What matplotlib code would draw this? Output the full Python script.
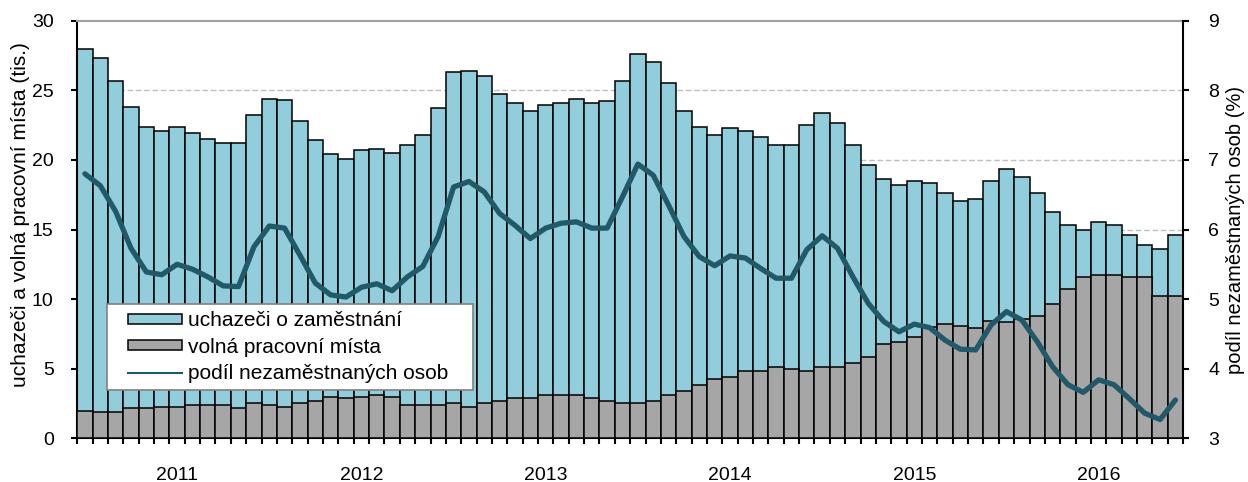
import matplotlib
matplotlib.use("Agg")
import matplotlib.pyplot as plt
import numpy as np
from matplotlib.patches import Patch, Rectangle
from matplotlib.lines import Line2D

plt.rcParams['font.family'] = ['Liberation Sans', 'DejaVu Sans']

years = ["2011", "2012", "2013", "2014", "2015", "2016"]

uchazeci = [28.0, 27.3, 25.7, 23.8, 22.4, 22.1, 22.4, 21.95, 21.5, 21.2, 21.2, 23.25,
            24.4, 24.3, 22.8, 21.4, 20.4, 20.1, 20.7, 20.8, 20.5, 21.1, 21.8, 23.7,
            26.3, 26.4, 26.0, 24.7, 24.1, 23.55, 23.95, 24.1, 24.4, 24.1, 24.25, 25.7,
            27.6, 27.0, 25.55, 23.55, 22.4, 21.8, 22.27, 22.1, 21.67, 21.07, 21.07, 22.53,
            23.37, 22.67, 21.09, 19.66, 18.65, 18.22, 18.48, 18.36, 17.64, 17.07, 17.19, 18.48,
            19.35, 18.77, 17.64, 16.23, 15.32, 14.94, 15.54, 15.32, 14.60, 13.89, 13.62, 14.60]

volna_mista = [1.98, 1.87, 1.87, 2.15, 2.15, 2.27, 2.27, 2.39, 2.39, 2.39, 2.15, 2.56,
               2.41, 2.27, 2.56, 2.70, 2.99, 2.87, 2.99, 3.11, 2.99, 2.39, 2.39, 2.39,
               2.56, 2.27, 2.56, 2.70, 2.87, 2.87, 3.11, 3.11, 3.11, 2.87, 2.70, 2.56,
               2.56, 2.70, 3.11, 3.42, 3.83, 4.28, 4.43, 4.86, 4.86, 5.14, 5.00, 4.86,
               5.14, 5.14, 5.43, 5.86, 6.75, 6.90, 7.30, 8.02, 8.21, 8.07, 7.90, 8.45,
               8.38, 8.57, 8.79, 9.63, 10.75, 11.61, 11.73, 11.73, 11.61, 11.61, 10.22, 10.22]

podil = [6.80, 6.63, 6.26, 5.73, 5.39, 5.35, 5.50, 5.43, 5.32, 5.19, 5.18, 5.75,
         6.05, 6.02, 5.63, 5.23, 5.06, 5.03, 5.17, 5.22, 5.12, 5.32, 5.47, 5.90,
         6.61, 6.69, 6.54, 6.23, 6.06, 5.87, 6.02, 6.09, 6.11, 6.02, 6.02, 6.47,
         6.94, 6.78, 6.35, 5.90, 5.61, 5.48, 5.62, 5.59, 5.44, 5.30, 5.30, 5.71,
         5.91, 5.73, 5.32, 4.94, 4.68, 4.53, 4.64, 4.59, 4.41, 4.28, 4.27, 4.63,
         4.82, 4.70, 4.39, 4.03, 3.77, 3.66, 3.84, 3.77, 3.57, 3.36, 3.27, 3.55]

labels = ["uchazeči o zaměstnání", "volná pracovní místa", "podíl nezaměstnaných osob"]
ylabel_left = "uchazeči a volná pracovní místa (tis.)"
ylabel_right = "podíl nezaměstnaných osob (%)"

c_blue = "#92CDDC"
c_gray = "#A6A6A6"
c_line = "#215968"
FS = 14

fig = plt.figure(figsize=(12.48, 4.82), dpi=100)
ax = fig.add_axes([0.0619, 0.0907, 0.948 - 0.0619, 0.957 - 0.0907])
n = len(uchazeci)
x = np.arange(n) + 0.5

ax.bar(x, uchazeci, width=1.0, color=c_blue, edgecolor="black", linewidth=1.1, zorder=2)
ax.bar(x, volna_mista, width=1.0, color=c_gray, edgecolor="black", linewidth=1.1, zorder=3)

ax.set_xlim(0, n)
ax.set_ylim(0, 30)
ax.set_yticks(np.arange(0, 31, 5))
for yv in [5, 10, 15, 20, 25]:
    ax.axhline(yv, color="#BFBFBF", linestyle=(0, (4, 2)), linewidth=1.0, zorder=1)

ax.set_xticks(np.arange(0, n + 1), minor=False)
ax.set_xticklabels([])
ax.set_xticks([12 * k + 6.5 for k in range(len(years))], minor=True)
ax.set_xticklabels(years, minor=True)
ax.tick_params(axis="x", which="major", direction="out", length=4, width=1.5)
ax.tick_params(axis="x", which="minor", length=0, pad=21, labelsize=FS)
ax.tick_params(axis="y", direction="out", length=4, width=1.5, pad=13, labelsize=FS)

for s in ["left", "bottom"]:
    ax.spines[s].set_linewidth(1.5)
ax.spines["top"].set_color("#A0A0A0")
ax.spines["top"].set_linewidth(1.5)
ax.spines["right"].set_visible(False)

ax.set_ylabel(ylabel_left, fontsize=15)
ax.yaxis.set_label_coords(-0.0425, 0.535)

ax2 = ax.twinx()
ax2.plot(x, podil, color=c_line, linewidth=3.8, solid_joinstyle="round",
         solid_capstyle="round", zorder=5)
ax2.set_ylim(3, 9)
ax2.set_yticks(np.arange(3, 10, 1))
ax2.tick_params(axis="y", direction="out", length=4, width=1.5, pad=14, labelsize=FS)
ax2.spines["right"].set_linewidth(1.5)
ax2.spines["top"].set_visible(False)
ax2.spines["left"].set_visible(False)
ax2.spines["bottom"].set_visible(False)
ax2.set_ylabel(ylabel_right, fontsize=14.5)
ax2.yaxis.set_label_coords(1.0385, 0.5)

# legend frame drawn explicitly
x0, x1, y0, y1 = 0.0269, 0.3579, 0.1157, 0.3216
ax2.add_patch(Rectangle((x0, y0), x1 - x0, y1 - y0, transform=ax2.transAxes,
                        facecolor="white", edgecolor="#808080", linewidth=1.2,
                        zorder=10, clip_on=False))

handles = [Patch(facecolor=c_blue, edgecolor="black", linewidth=1.1),
           Patch(facecolor=c_gray, edgecolor="black", linewidth=1.1),
           Line2D([0], [0], color=c_line, linewidth=1.5)]
leg = ax2.legend(handles, labels, loc="center left", bbox_to_anchor=(0.0459, 0.2186),
                 borderaxespad=0, borderpad=0, fontsize=15, frameon=False,
                 handlelength=2.6, handleheight=0.38, handletextpad=0.29,
                 labelspacing=0.35)
leg.set_zorder(11)

fig.savefig("out.png", dpi=100)
